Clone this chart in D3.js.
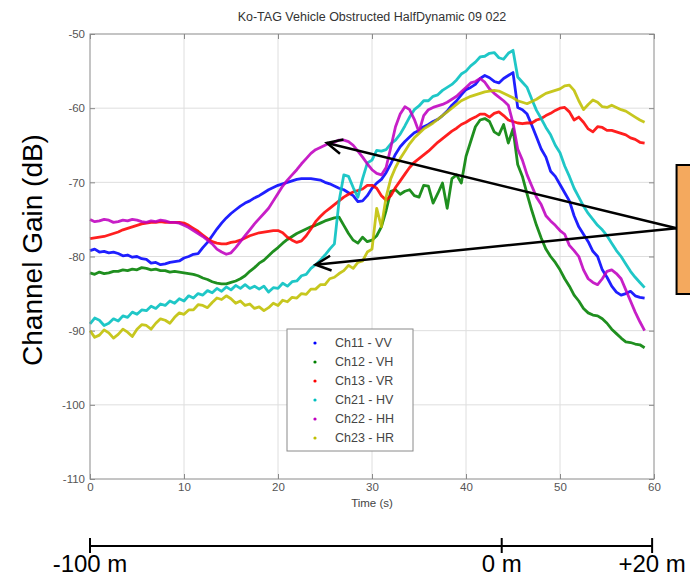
<!DOCTYPE html>
<html>
<head>
<meta charset="utf-8">
<script src="https://cdn.jsdelivr.net/npm/d3@7"></script>
<style>
  body { margin: 0; background: #fff; }
  svg { display: block; font-family: Arial, "Liberation Sans", sans-serif; }
</style>
</head>
<body>
<div id="chart"></div>
<script>
// Time samples (s), every 0.5 s from 0 to 59
const time = d3.range(0, 59.01, 0.5);

// Channel gain (dB), one value per time sample
const ch11 = [-79.2,-79.0,-79.4,-79.3,-79.5,-79.4,-79.6,-79.9,-79.8,-80.1,-80.0,-80.3,-80.4,-80.9,-80.8,-81.1,-81.0,-80.8,-80.7,-80.6,
  -80.2,-80.0,-79.7,-79.6,-78.8,-78.1,-77.2,-76.3,-75.5,-74.8,-74.2,-73.7,-73.2,-72.8,-72.5,-72.1,-71.8,-71.4,-71.0,-70.7,
  -70.4,-70.2,-70.0,-69.8,-69.6,-69.5,-69.5,-69.5,-69.6,-69.7,-70.0,-70.2,-70.5,-70.8,-71.0,-71.4,-71.8,-72.6,-72.5,-71.8,
  -70.8,-70.1,-69.6,-68.7,-67.5,-66.2,-65.2,-64.5,-63.9,-63.3,-63.0,-62.5,-62.2,-61.8,-61.5,-61.0,-60.4,-59.6,-59.0,-58.2,
  -57.5,-57.2,-56.8,-56.0,-55.6,-55.9,-56.4,-56.6,-56.0,-55.6,-55.2,-59.9,-60.2,-60.8,-62.3,-63.9,-65.5,-66.6,-68.5,-69.2,
  -70.3,-71.4,-72.5,-74.5,-76.0,-77.0,-78.0,-79.3,-80.0,-81.8,-82.8,-84.0,-84.8,-85.2,-85.0,-84.7,-85.3,-85.5,-85.6];
const ch12 = [-82.2,-82.4,-82.1,-82.3,-82.2,-82.0,-82.0,-81.8,-81.9,-81.7,-81.8,-81.5,-81.6,-81.8,-81.7,-81.9,-81.9,-82.1,-82.0,-82.1,
  -82.2,-82.3,-82.4,-82.6,-82.9,-83.1,-83.4,-83.6,-83.7,-83.7,-83.5,-83.3,-83.0,-82.6,-82.0,-81.5,-80.9,-80.5,-79.9,-79.3,
  -78.8,-78.2,-77.7,-77.3,-76.9,-76.6,-76.3,-76.0,-75.8,-75.5,-75.2,-75.0,-74.8,-74.7,-75.8,-76.9,-77.8,-78.2,-77.4,-78.0,
  -77.8,-77.2,-76.0,-73.8,-71.2,-71.0,-71.6,-71.2,-71.0,-71.8,-72.0,-70.4,-70.5,-72.8,-71.5,-70.1,-73.5,-69.5,-69.0,-70.1,
  -66.5,-64.5,-62.5,-61.6,-61.4,-61.8,-63.2,-63.6,-62.2,-64.7,-62.8,-67.6,-69.2,-71.6,-73.8,-75.8,-77.5,-79.0,-80.0,-80.8,
  -81.8,-83.0,-84.0,-85.2,-86.0,-87.0,-87.6,-87.9,-88.0,-88.4,-89.0,-89.8,-90.4,-91.0,-91.5,-91.6,-91.8,-91.9,-92.3];
const ch13 = [-77.6,-77.5,-77.4,-77.3,-77.1,-76.9,-76.7,-76.4,-76.2,-76.0,-75.8,-75.6,-75.5,-75.4,-75.4,-75.3,-75.4,-75.4,-75.4,-75.4,
  -75.5,-75.8,-76.2,-76.6,-77.1,-77.6,-78.0,-78.2,-78.3,-78.3,-78.1,-78.0,-77.8,-77.5,-77.2,-77.0,-76.8,-76.7,-76.6,-76.5,
  -76.5,-76.8,-77.4,-77.8,-78.1,-77.9,-77.2,-76.3,-75.3,-74.6,-74.0,-73.5,-73.0,-72.5,-72.0,-71.6,-71.3,-71.1,-70.9,-70.4,
  -70.4,-70.8,-71.8,-72.4,-71.8,-70.7,-69.8,-68.9,-68.0,-67.3,-66.8,-66.3,-65.8,-65.2,-64.6,-64.1,-63.6,-63.1,-62.7,-62.2,
  -61.9,-61.5,-61.2,-60.8,-60.8,-61.2,-60.7,-60.5,-61.0,-61.6,-61.8,-62.0,-62.1,-62.0,-62.0,-61.6,-61.4,-61.0,-60.7,-60.3,
  -60.0,-59.9,-60.5,-61.6,-61.2,-61.9,-62.8,-63.2,-62.5,-62.6,-63.0,-63.0,-63.2,-63.4,-63.6,-64.0,-64.2,-64.6,-64.7];
const ch21 = [-89.1,-88.3,-88.6,-89.3,-89.0,-88.4,-88.7,-88.0,-88.2,-87.5,-87.8,-87.2,-87.3,-86.7,-87.0,-86.4,-86.6,-86.0,-86.3,-85.7,
  -86.0,-85.3,-85.6,-85.0,-85.2,-84.6,-84.9,-84.3,-84.7,-84.1,-84.5,-83.9,-84.3,-83.8,-84.3,-84.0,-84.4,-84.0,-84.8,-84.2,
  -84.3,-83.6,-84.0,-83.4,-83.3,-82.6,-82.4,-81.6,-81.1,-80.5,-79.8,-79.0,-78.3,-72.5,-69.0,-69.2,-70.7,-72.0,-69.5,-67.4,
  -67.0,-65.7,-65.8,-65.6,-64.8,-64.3,-63.5,-62.4,-61.2,-60.2,-59.7,-59.0,-59.0,-58.4,-58.2,-57.6,-57.2,-56.8,-56.2,-55.4,
  -55.0,-54.3,-53.8,-53.1,-53.0,-52.6,-52.5,-53.2,-53.4,-52.6,-52.2,-55.8,-56.5,-57.2,-58.8,-60.3,-61.4,-62.6,-63.6,-65.0,
  -66.0,-67.8,-69.2,-70.8,-72.0,-73.2,-74.2,-75.0,-75.8,-76.4,-77.2,-78.2,-79.2,-80.0,-81.0,-82.0,-82.8,-83.5,-84.2];
const ch22 = [-75.0,-75.3,-75.2,-75.0,-75.1,-75.4,-75.3,-75.1,-75.2,-75.0,-75.1,-75.3,-75.4,-75.2,-75.3,-75.1,-75.2,-75.4,-75.4,-75.5,
  -75.8,-76.1,-76.5,-76.9,-77.3,-77.8,-78.3,-79.0,-79.4,-79.7,-79.5,-78.8,-78.0,-77.2,-76.4,-75.6,-74.9,-74.2,-73.5,-72.5,
  -71.5,-70.5,-69.7,-69.0,-68.3,-67.5,-66.8,-66.1,-65.6,-65.3,-65.0,-64.7,-64.6,-64.3,-64.3,-64.5,-65.0,-65.8,-66.6,-67.5,
  -68.3,-68.8,-69.0,-68.0,-65.3,-62.5,-60.8,-59.8,-60.2,-61.5,-63.2,-61.0,-60.2,-59.9,-59.7,-59.5,-59.2,-58.8,-58.4,-57.8,
  -57.2,-56.6,-56.4,-56.0,-56.5,-57.4,-58.0,-58.5,-59.0,-59.6,-62.0,-65.5,-67.0,-69.0,-70.5,-72.0,-73.0,-74.5,-75.2,-75.8,
  -76.5,-77.0,-78.5,-79.2,-80.0,-81.8,-83.0,-83.5,-83.8,-83.0,-82.0,-81.8,-82.3,-83.0,-84.5,-86.0,-87.5,-88.8,-90.0];
const ch23 = [-90.0,-90.9,-90.6,-89.9,-90.3,-91.0,-90.5,-89.8,-90.2,-90.8,-89.8,-89.2,-89.3,-89.8,-89.0,-88.4,-88.6,-89.0,-88.2,-87.6,
  -87.8,-87.2,-87.2,-86.5,-86.6,-86.9,-86.2,-85.6,-85.8,-85.3,-85.7,-86.3,-86.0,-86.6,-86.4,-87.0,-86.8,-87.3,-86.9,-86.3,
  -86.6,-85.9,-86.1,-85.5,-85.6,-85.0,-85.1,-84.4,-84.4,-83.8,-83.8,-83.0,-82.8,-82.3,-81.9,-81.2,-81.6,-80.8,-80.6,-79.4,
  -79.0,-73.5,-76.0,-72.0,-69.5,-68.0,-66.8,-65.8,-64.8,-64.0,-63.4,-62.8,-62.4,-62.0,-61.5,-61.0,-60.5,-60.0,-59.5,-59.0,
  -58.7,-58.4,-58.2,-58.0,-57.8,-57.7,-57.6,-57.7,-58.0,-58.3,-58.6,-59.0,-59.2,-59.4,-59.1,-58.8,-58.4,-58.0,-57.8,-57.6,
  -57.4,-57.0,-56.9,-57.6,-59.0,-60.2,-59.5,-58.9,-59.2,-59.8,-59.9,-59.6,-59.9,-60.2,-60.4,-60.8,-61.2,-61.6,-61.9];

const seriesNames = ["Ch11 - VV", "Ch12 - VH", "Ch13 - VR", "Ch21 - HV", "Ch22 - HH", "Ch23 - HR"];
const seriesValues = [ch11, ch12, ch13, ch21, ch22, ch23];
const seriesColors = ["#0000ff", "#008000", "#ff0000", "#00bfbf", "#bf00bf", "#bfbf00"];

const xTicks = [0, 10, 20, 30, 40, 50, 60];
const yTicks = [-110, -100, -90, -80, -70, -60, -50];

// distance marks under the axis (time at which the vehicle is at that distance)
const distLabels = ["-100 m", "0 m", "+20 m"];
const distTimes = [0, 43.8, 59.8];

// annotation arrows: tips on the curves, tail at the note box
const arrowTips = [[25.2, -64.7], [24.0, -81.1]];
const arrowTail = [62.4, -76.2];

const W = 690, H = 578;
const svg = d3.select("#chart").append("svg")
  .attr("width", W)
  .attr("height", H);

const x = d3.scaleLinear().domain([0, 60]).range([90, 654]);
const y = d3.scaleLinear().domain([-110, -50]).range([479, 34]);

// Grid
svg.append("g").selectAll("line")
  .data(xTicks.slice(1, -1))
  .enter().append("line")
  .attr("x1", d => x(d)).attr("x2", d => x(d))
  .attr("y1", y(-110)).attr("y2", y(-50))
  .attr("stroke", "#dedede");
svg.append("g").selectAll("line")
  .data(yTicks.slice(1, -1))
  .enter().append("line")
  .attr("x1", x(0)).attr("x2", x(60))
  .attr("y1", d => y(d)).attr("y2", d => y(d))
  .attr("stroke", "#dedede");

// Axes
function styleAxis(g) {
  g.select(".domain").remove();
  g.selectAll(".tick line").attr("stroke", "#8a8a8a");
  g.selectAll(".tick text").attr("fill", "#555").attr("font-size", 11.5);
}
svg.append("g")
  .attr("transform", `translate(0,${y(-110)})`)
  .call(d3.axisBottom(x).tickValues(xTicks).tickSize(-5).tickPadding(4).tickFormat(d => String(d)))
  .call(styleAxis);
svg.append("g")
  .attr("transform", `translate(${x(0)},0)`)
  .call(d3.axisLeft(y).tickValues(yTicks).tickSize(-5).tickPadding(5).tickFormat(d => String(d)))
  .call(styleAxis);
svg.append("g")
  .attr("transform", `translate(0,${y(-50)})`)
  .call(d3.axisTop(x).tickValues(xTicks).tickSize(-5).tickFormat(""))
  .call(styleAxis);
svg.append("g")
  .attr("transform", `translate(${x(60)},0)`)
  .call(d3.axisRight(y).tickValues(yTicks).tickSize(-5).tickFormat(""))
  .call(styleAxis);

// Lines
const line = d3.line()
  .x((d, i) => x(time[i]))
  .y(d => y(d));

svg.append("g").selectAll("path")
  .data(seriesValues)
  .enter().append("path")
  .attr("d", line)
  .attr("fill", "none")
  .attr("stroke", (d, i) => seriesColors[i])
  .attr("stroke-width", 2.8)
  .attr("stroke-linejoin", "round")
  .attr("opacity", 0.88);

// Plot box
svg.append("rect")
  .attr("x", x(0)).attr("y", y(-50))
  .attr("width", x(60) - x(0)).attr("height", y(-110) - y(-50))
  .attr("fill", "none")
  .attr("stroke", "#8a8a8a");

// Title and axis labels
svg.append("text")
  .attr("x", (x(0) + x(60)) / 2).attr("y", 21)
  .attr("text-anchor", "middle")
  .attr("font-size", 12.5)
  .attr("fill", "#333")
  .text("Ko-TAG Vehicle Obstructed HalfDynamic 09 022");

svg.append("text")
  .attr("x", (x(0) + x(60)) / 2).attr("y", 507)
  .attr("text-anchor", "middle")
  .attr("font-size", 11.5)
  .attr("fill", "#444")
  .text("Time (s)");

svg.append("text")
  .attr("transform", "translate(42,250) rotate(-90)")
  .attr("text-anchor", "middle")
  .attr("font-size", 28)
  .attr("fill", "#000")
  .text("Channel Gain (dB)");

// Legend
const legend = svg.append("g").attr("transform", "translate(287,329)");
legend.append("rect")
  .attr("width", 126).attr("height", 122)
  .attr("fill", "#fff")
  .attr("stroke", "#8a8a8a");
const item = legend.selectAll("g")
  .data(seriesNames)
  .enter().append("g")
  .attr("transform", (d, i) => `translate(0,${14 + i * 19})`);
item.append("circle")
  .attr("cx", 28).attr("r", 1.6)
  .attr("fill", (d, i) => seriesColors[i]);
item.append("text")
  .attr("x", 48).attr("dy", "0.35em")
  .attr("font-size", 12.5)
  .attr("fill", "#444")
  .text(d => d);

// Note box (cut by the right edge) and arrows
svg.append("rect")
  .attr("x", x(62.4)).attr("y", 165)
  .attr("width", 40).attr("height", 129)
  .attr("fill", "#f4a95e")
  .attr("stroke", "#000")
  .attr("stroke-width", 2);

const arrows = svg.append("g")
  .attr("stroke", "#000")
  .attr("stroke-width", 2.5)
  .attr("fill", "none");
arrowTips.forEach(tip => {
  const x0 = x(arrowTail[0]), y0 = y(arrowTail[1]);
  const x1 = x(tip[0]), y1 = y(tip[1]);
  const a = Math.atan2(y0 - y1, x0 - x1);
  const len = 17, spread = 0.45;
  arrows.append("line")
    .attr("x1", x0).attr("y1", y0).attr("x2", x1).attr("y2", y1);
  arrows.append("path")
    .attr("d", `M${x1 + len * Math.cos(a - spread)},${y1 + len * Math.sin(a - spread)}L${x1},${y1}L${x1 + len * Math.cos(a + spread)},${y1 + len * Math.sin(a + spread)}`);
});

// Distance bar
const bar = svg.append("g");
bar.append("line")
  .attr("x1", x(distTimes[0])).attr("x2", x(distTimes[distTimes.length - 1]))
  .attr("y1", 546).attr("y2", 546)
  .attr("stroke", "#000").attr("stroke-width", 2);
bar.selectAll(".mark")
  .data(distTimes)
  .enter().append("line")
  .attr("x1", d => x(d)).attr("x2", d => x(d))
  .attr("y1", 538).attr("y2", 553)
  .attr("stroke", "#000").attr("stroke-width", 2);
bar.selectAll("text")
  .data(distLabels)
  .enter().append("text")
  .attr("x", (d, i) => x(distTimes[i]))
  .attr("y", 572)
  .attr("text-anchor", "middle")
  .attr("font-size", 24)
  .attr("fill", "#000")
  .text(d => d);
</script>
</body>
</html>
